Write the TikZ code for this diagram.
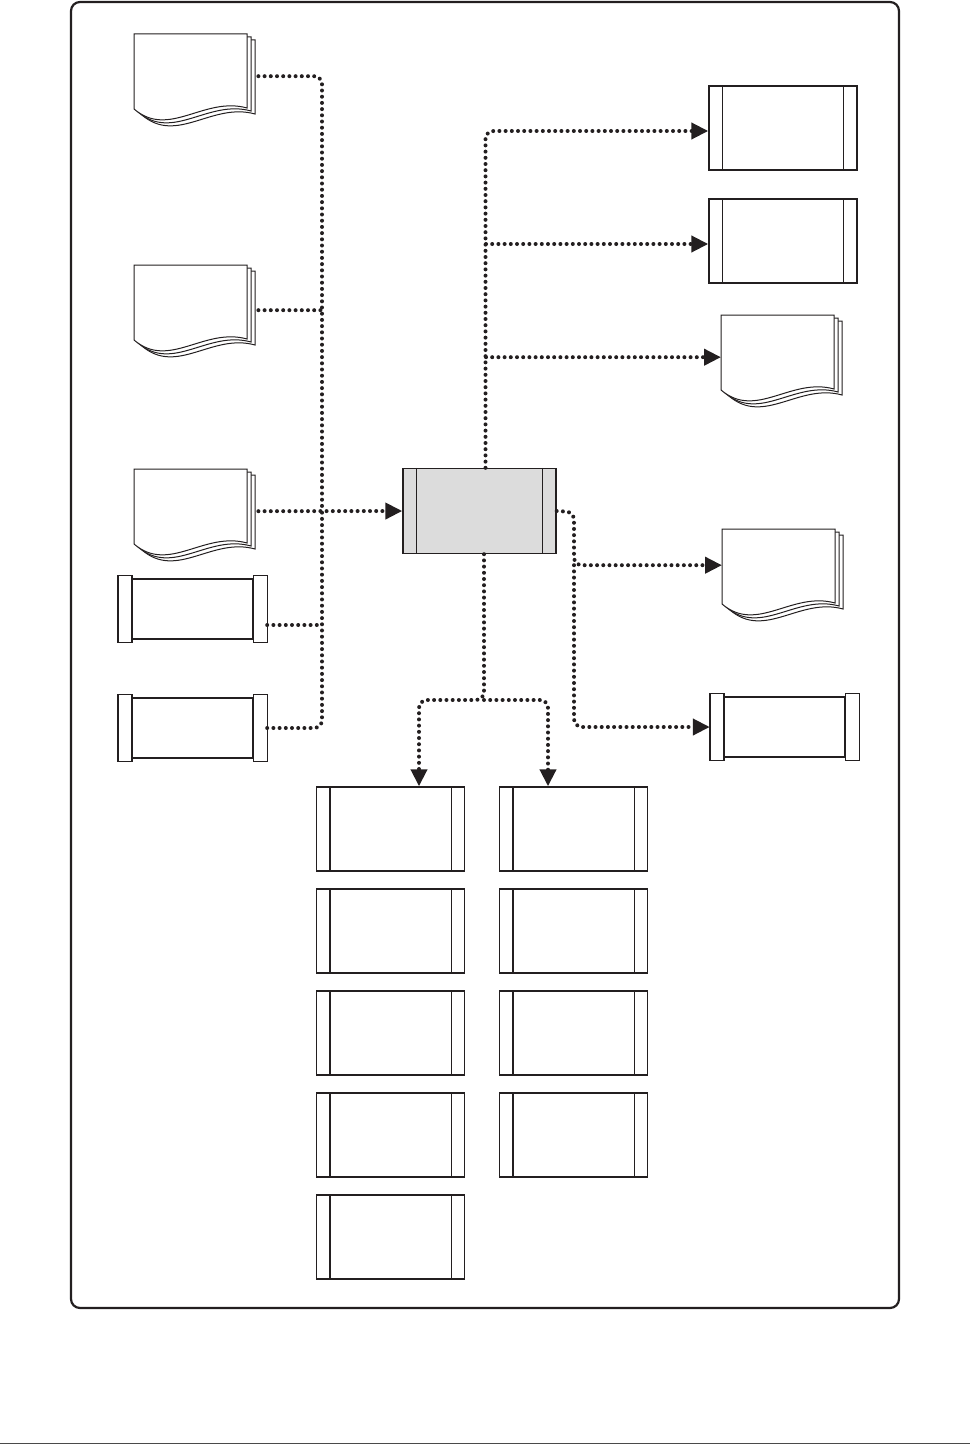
\documentclass[tikz,border=0pt]{standalone}
\usepackage{tikz}
\usetikzlibrary{arrows.meta,positioning}
\definecolor{inkline}{HTML}{231F20}
\definecolor{boxgray}{HTML}{DCDCDC}
\definecolor{rulegray}{HTML}{4A4A4A}

\begin{document}
\begin{tikzpicture}[
    x=1pt, y=-1pt,
    node distance=16.6pt and 33.6pt,
    proc/.style={
        draw=inkline,
        line width=1.4pt,
        fill=white,
        minimum width=148pt,
        minimum height=84pt,
        inner sep=0pt
    },
    procx/.style={
        draw=inkline,
        line width=1.4pt,
        fill=white,
        minimum width=120pt,
        minimum height=60pt,
        inner sep=0pt
    },
    docnode/.style={
        minimum width=113pt,
        minimum height=84pt,
        inner sep=0pt,
        anchor=north west
    },
    page/.style={
        draw=inkline,
        line width=1pt,
        fill=white
    },
    procline/.style={
        draw=inkline,
        line width=1.4pt
    },
    flow/.style={
        color=inkline,
        line width=4pt,
        line cap=round,
        dash pattern=on 0pt off 6.2pt,
        rounded corners=8pt
    },
    arrowto/.style={
        -{Triangle[length=17pt,width=16pt]}
    }
]
\useasboundingbox (0,0) rectangle (970,1453);

% Frame and bottom rule
\draw[inkline, line width=2.2pt, rounded corners=9pt] (71,2) rectangle (899,1308);
\draw[rulegray, line width=1pt] (0,1443) -- (970,1443);

% Central process
\node[proc, fill=boxgray, minimum width=153pt, minimum height=85pt] (cen) at (479.5,511) {};

% Inputs on the left
\node[docnode] (d1) at (134,34) {};
\node[docnode] (d2) at (134,265) {};
\node[docnode] (d3) at (134,469) {};
\node[procx] (la) at (192.5,609) {};
\node[procx] (lb) at (192.5,728) {};

% Outputs on the right
\node[proc] (pc) at (783,128) {};
\node[proc, below=27.6pt of pc] (pd) {};
\node[docnode] (d4) at (721,315) {};
\node[docnode] (d5) at (722,529) {};
\node[procx] (pe) at (784.5,727) {};

% Outputs below
\node[proc] (q11) at (390.5,829) {};
\node[proc, below=of q11] (q12) {};
\node[proc, below=of q12] (q13) {};
\node[proc, below=of q13] (q14) {};
\node[proc, below=of q14] (q15) {};
\node[proc, right=of q11] (q21) {};
\node[proc, below=of q21] (q22) {};
\node[proc, below=of q22] (q23) {};
\node[proc, below=of q23] (q24) {};

% Side bars of the process boxes
\foreach \n in {cen,pc,pd,q11,q12,q13,q14,q15,q21,q22,q23,q24}
    \draw[procline] ([xshift=14pt]\n.north west) -- ([xshift=14pt]\n.south west)
        ([xshift=-14pt]\n.north east) -- ([xshift=-14pt]\n.south east);
\foreach \n in {la,lb,pe}
    \draw[procline, fill=white] ([shift={(-14,-3)}]\n.north west) rectangle ([shift={(0,3)}]\n.south west)
        ([shift={(0,-3)}]\n.north east) rectangle ([shift={(14,3)}]\n.south east);

% Stacked documents
\foreach \n in {d1,d2,d3,d4,d5}
    \foreach \o in {8,4,0}
        \draw[page] ([shift={(\o,0.75*\o)}]\n.north west) -- ++(113,0) -- ++(0,74)
            .. controls +(-43,-12) and +(35,30) .. ++(-113,1) -- cycle;

% Bus coordinates
\coordinate (lbus) at (322,512);
\coordinate (rbus) at (574,512);
\coordinate (split) at (484,700);

% Connections into the central process
\draw[flow] ([xshift=11pt]d1.east) -| (lbus);
\draw[flow] ([shift={(11,3)}]d2.east) -- ([shift={(0,3)}]d2.east -| lbus);
\draw[flow, arrowto] ([xshift=11pt]d3.east) -- (cen.west);
\draw[flow] ([shift={(14,16)}]la.east) -- ([shift={(0,16)}]la.east -| lbus);
\draw[flow] ([xshift=14pt]lb.east) -| (lbus);

% Connections out to the right
\draw[flow, arrowto] ([xshift=6pt]cen.north) |- ([shift={(0,3)}]pc.west);
\draw[flow, arrowto] ([shift={(0,3)}]pd.west -| 486,0) -- ([shift={(0,3)}]pd.west);
\draw[flow, arrowto] (d4.west -| 486,0) -- (d4.west);
\draw[flow, arrowto] (cen.east) -- (rbus) |- ([shift={(0,-6)}]d5.west);
\draw[flow, arrowto] ([shift={(0,-6)}]d5.west -| rbus) |- ([xshift=-14pt]pe.west);

% Connections down
\draw[flow, arrowto] ([xshift=4.5pt]cen.south) -- (split) -| ([xshift=28.5pt]q11.north);
\draw[flow, arrowto] (split) -| ([xshift=-25.5pt]q21.north);

\end{tikzpicture}
\end{document}
